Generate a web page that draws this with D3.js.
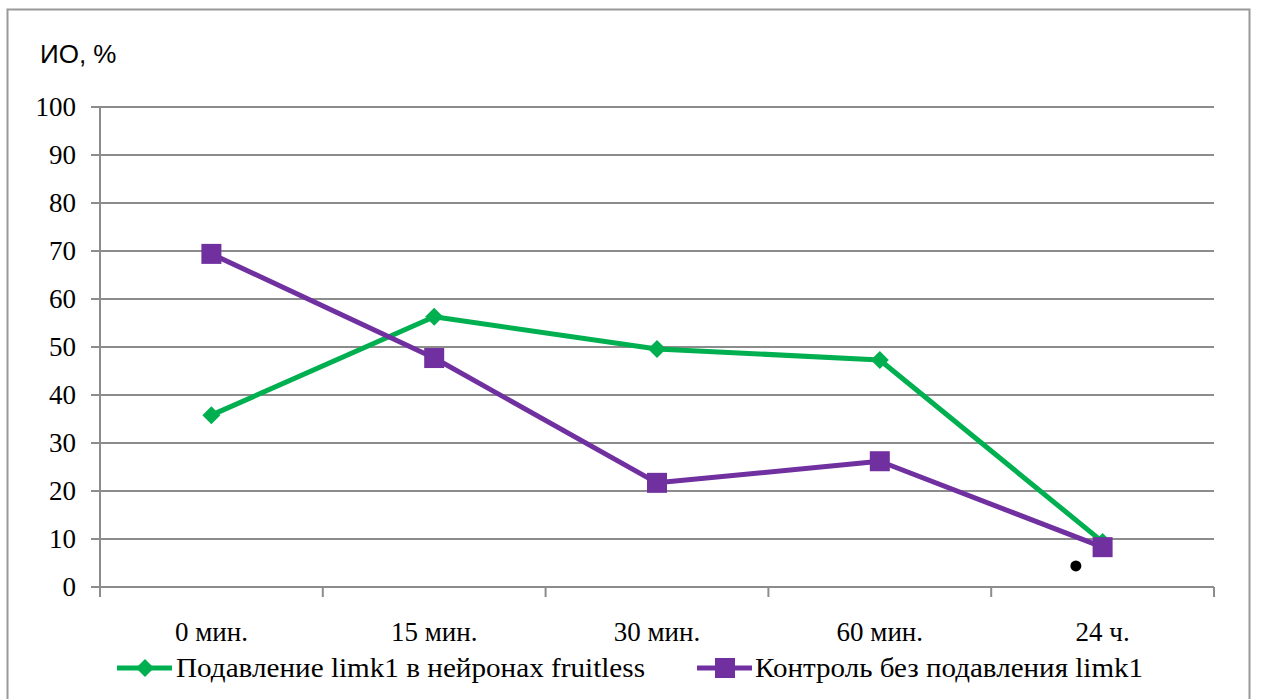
<!DOCTYPE html>
<html><head><meta charset="utf-8">
<script src="https://cdn.jsdelivr.net/npm/d3@7"></script>
<style>
body{margin:0;background:#fff}svg{display:block}
svg text.serif{font-family:"Liberation Serif","Times New Roman",Tinos,serif;font-size:27px}
svg text.sans{font-family:"Liberation Sans",Arial,sans-serif;font-size:26px}
</style>
</head><body>
<script>
const categories = ["0 мин.", "15 мин.", "30 мин.", "60 мин.", "24 ч."];
const seriesNames = ["Подавление limk1  в нейронах fruitless", "Контроль без подавления limk1"];
const greenValues = [35.8, 56.3, 49.6, 47.3, 9.4];
const purpleValues = [69.4, 47.7, 21.7, 26.2, 8.3];
const yTicks = [0, 10, 20, 30, 40, 50, 60, 70, 80, 90, 100];
const markers = [{cat: "24 ч.", value: 4.4, offset: -0.12}];

(function () {
const W = 1262, H = 699;
const svg = d3.select("body").append("svg").attr("width", W).attr("height", H)
  .attr("font-family", "Liberation Serif");
svg.append("rect").attr("x", 7.5).attr("y", 9.5).attr("width", 1242).attr("height", 700)
  .attr("fill", "#fff").attr("stroke", "#999").attr("stroke-width", 2);

const pL = 100, pR = 1214, pT = 107, pB = 587;
const x = d3.scaleBand().domain(categories).range([pL, pR]);
const y = d3.scaleLinear().domain([0, 100]).range([pB, pT]);
const gridColor = "#8c8c8c";

svg.append("g").selectAll("line").data(yTicks).join("line")
  .attr("x1", pL - 9).attr("x2", pR).attr("y1", d => y(d)).attr("y2", d => y(d))
  .attr("stroke", gridColor).attr("stroke-width", 2);
svg.append("line").attr("x1", pL).attr("x2", pL).attr("y1", pT).attr("y2", pB + 10)
  .attr("stroke", gridColor).attr("stroke-width", 2);
const bounds = categories.map(c => x(c)).concat([pR]);
svg.append("g").selectAll("line").data(bounds.slice(1)).join("line")
  .attr("x1", d => d).attr("x2", d => d).attr("y1", pB).attr("y2", pB + 10)
  .attr("stroke", gridColor).attr("stroke-width", 2);

svg.append("g").selectAll("text").data(yTicks).join("text").attr("class", "serif")
  .attr("x", 76).attr("y", d => y(d) + 9).attr("text-anchor", "end")
  .attr("fill", "#000").text(d => d);
svg.append("g").selectAll("text").data(categories).join("text").attr("class", "serif")
  .attr("x", d => x(d) + x.bandwidth() / 2).attr("y", 641).attr("text-anchor", "middle")
  .attr("fill", "#000").text(d => d);
svg.append("text").attr("class", "sans").attr("x", 40).attr("y", 63)
  .attr("fill", "#000").text("ИО, %");

const cx = d => x(d) + x.bandwidth() / 2;
const line = d3.line().x(d => cx(d.c)).y(d => y(d.v));
const gData = categories.map((c, i) => ({c, v: greenValues[i]}));
const pData = categories.map((c, i) => ({c, v: purpleValues[i]}));
const green = "#00b050", purple = "#7030a0";

svg.append("path").datum(gData).attr("d", line).attr("fill", "none").attr("stroke", green).attr("stroke-width", 5).attr("stroke-linejoin", "round");
svg.append("path").datum(pData).attr("d", line).attr("fill", "none").attr("stroke", purple).attr("stroke-width", 5).attr("stroke-linejoin", "round");

const diamond = (g, px, py, s) => g.append("path")
  .attr("d", `M${px},${py - s}L${px + s},${py}L${px},${py + s}L${px - s},${py}Z`).attr("fill", green);
gData.forEach(d => diamond(svg, cx(d.c), y(d.v), 9));
svg.append("g").selectAll("rect").data(pData).join("rect")
  .attr("x", d => cx(d.c) - 10).attr("y", d => y(d.v) - 10).attr("width", 20).attr("height", 20).attr("fill", purple);

svg.append("g").selectAll("circle").data(markers).join("circle")
  .attr("cx", d => cx(d.cat) + d.offset * x.bandwidth()).attr("cy", d => y(d.value)).attr("r", 5.5).attr("fill", "#000");

const lg = svg.append("g");
lg.append("line").attr("x1", 117).attr("x2", 172).attr("y1", 668).attr("y2", 668).attr("stroke", green).attr("stroke-width", 5);
diamond(lg, 145, 668, 9);
lg.append("text").attr("class", "serif").attr("x", 176).attr("y", 677)
  .attr("textLength", 469).attr("lengthAdjust", "spacingAndGlyphs").text(seriesNames[0]);
lg.append("line").attr("x1", 697).attr("x2", 752).attr("y1", 668).attr("y2", 668).attr("stroke", purple).attr("stroke-width", 5);
lg.append("rect").attr("x", 715).attr("y", 658).attr("width", 20).attr("height", 20).attr("fill", purple);
lg.append("text").attr("class", "serif").attr("x", 755).attr("y", 677)
  .attr("textLength", 388).attr("lengthAdjust", "spacingAndGlyphs").text(seriesNames[1]);
})();
</script>
</body></html>
